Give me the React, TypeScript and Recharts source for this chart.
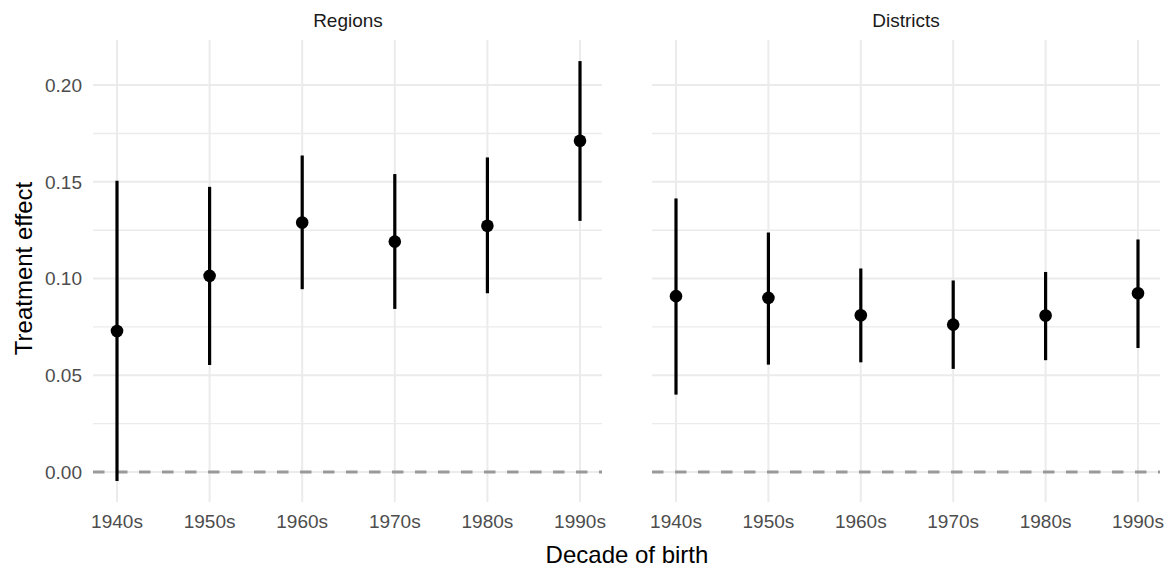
import {
  ComposedChart, Scatter, ErrorBar, XAxis, YAxis, ReferenceLine,
} from 'recharts';

const FONT = '"Liberation Sans", Arial, Helvetica, sans-serif';

const decades = ['1940s', '1950s', '1960s', '1970s', '1980s', '1990s'];

const regionEst = [0.0729, 0.1014, 0.129, 0.1191, 0.1273, 0.1712];
const regionLow = [-0.0047, 0.0553, 0.0945, 0.0843, 0.0924, 0.1298];
const regionHigh = [0.1505, 0.1474, 0.1636, 0.154, 0.1626, 0.2124];

const districtEst = [0.0909, 0.09, 0.081, 0.0762, 0.0809, 0.0924];
const districtLow = [0.04, 0.0555, 0.0567, 0.0533, 0.0578, 0.0641];
const districtHigh = [0.1414, 0.1238, 0.1052, 0.099, 0.1034, 0.1202];

const majorTicks = [0, 0.05, 0.1, 0.15, 0.2];
const minorTicks = [0.025, 0.075, 0.125, 0.175];
const yDomain: [number, number] = [-0.0155, 0.2233];

const GRID = '#EBEBEB';

function buildRows(est: number[], low: number[], high: number[]) {
  return decades.map((decade, i) => ({
    decade,
    est: est[i],
    err: [est[i] - low[i], high[i] - est[i]],
  }));
}

const Dot = (p: any) => <circle cx={p.cx} cy={p.cy} r={6.3} fill="#000" />;

interface PanelProps {
  rows: ReturnType<typeof buildRows>;
  width: number;
  left: number;
  showY: boolean;
}

function Panel({ rows, width, left, showY }: PanelProps) {
  const tick = { fontSize: 19, fill: '#4D4D4D', fontFamily: FONT };
  return (
    <ComposedChart
      width={width}
      height={569}
      data={rows}
      margin={{ top: 40, right: width - (showY ? 602 : 540), bottom: 37, left }}
    >
      <XAxis
        dataKey="decade"
        type="category"
        scale="point"
        padding={{ left: 24, right: 22 }}
        axisLine={false}
        tickLine={false}
        tickSize={0}
        tickMargin={13}
        interval={0}
        height={30}
        tick={tick}
      />
      <YAxis
        type="number"
        domain={yDomain}
        ticks={majorTicks}
        allowDataOverflow
        hide={!showY}
        width={93}
        axisLine={false}
        tickLine={false}
        tickSize={0}
        tickMargin={11}
        tickFormatter={(v: number) => v.toFixed(2)}
        tick={tick}
      />
      {minorTicks.map(v => (
        <ReferenceLine key={`mi${v}`} y={v} stroke={GRID} strokeWidth={1.4} />
      ))}
      {majorTicks.map(v => (
        <ReferenceLine key={`ma${v}`} y={v} stroke={GRID} strokeWidth={2} />
      ))}
      {decades.map(d => (
        <ReferenceLine key={d} x={d} stroke={GRID} strokeWidth={2} />
      ))}
      <ReferenceLine y={0} stroke="#999999" strokeWidth={3} strokeDasharray="11.5 11.5" />
      <Scatter dataKey="est" shape={Dot} isAnimationActive={false}>
        <ErrorBar dataKey="err" direction="y" width={0} stroke="#000" strokeWidth={3.2} isAnimationActive={false} />
      </Scatter>
    </ComposedChart>
  );
}

export default function App() {
  const regions = buildRows(regionEst, regionLow, regionHigh);
  const districts = buildRows(districtEst, districtLow, districtHigh);
  return (
    <div style={{ position: 'absolute', left: 0, top: 0, width: 1169, height: 569, background: '#fff' }}>
      <div style={{ position: 'absolute', left: 0, top: 0 }}>
        <Panel rows={regions} width={620} left={0} showY />
      </div>
      <div style={{ position: 'absolute', left: 620, top: 0 }}>
        <Panel rows={districts} width={549} left={32} showY={false} />
      </div>
      <svg
        width={1169}
        height={569}
        style={{ position: 'absolute', left: 0, top: 0, pointerEvents: 'none' }}
        fontFamily={FONT}
      >
        <text x={348} y={27} fontSize={19} fill="#1A1A1A" textAnchor="middle">Regions</text>
        <text x={906} y={27} fontSize={19} fill="#1A1A1A" textAnchor="middle">Districts</text>
        <text x={627} y={563} fontSize={24} fill="#000" textAnchor="middle">Decade of birth</text>
        <text transform="translate(32,268.5) rotate(-90)" fontSize={24} fill="#000" textAnchor="middle">
          Treatment effect
        </text>
      </svg>
    </div>
  );
}
